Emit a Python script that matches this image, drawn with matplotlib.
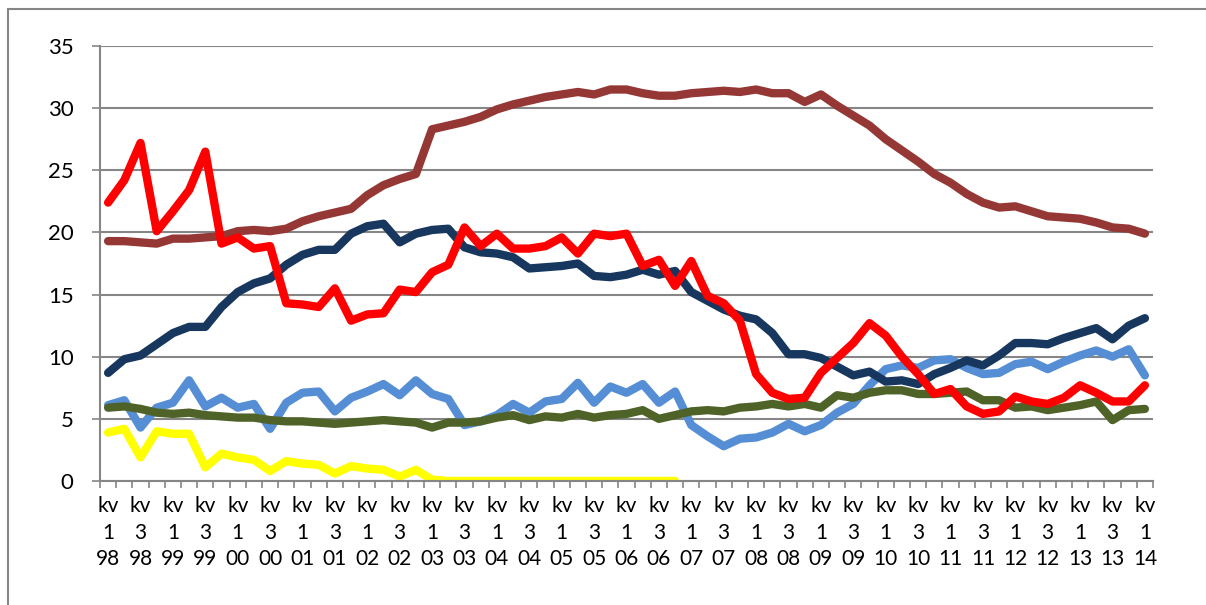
import numpy as np
import matplotlib
matplotlib.use('Agg')
import matplotlib.pyplot as plt
from matplotlib.patches import Rectangle

plt.rcParams['font.family'] = ['Lato', 'DejaVu Sans']

# kvartal 1 1998 .. kvartal 1 2014
years = ['98', '99', '00', '01', '02', '03', '04', '05', '06', '07',
         '08', '09', '10', '11', '12', '13', '14']
tick_labels = []
for y in years:
    for q in ['1', '3']:
        tick_labels.append('kv\n' + q + '\n' + y)
tick_labels = tick_labels[:33]

brown = [19.3, 19.3, 19.2, 19.1, 19.5, 19.5, 19.6, 19.7, 20.1, 20.2,
         20.1, 20.3, 20.9, 21.3, 21.6, 21.9, 23.0, 23.8, 24.3, 24.7,
         28.3, 28.6, 28.9, 29.3, 29.9, 30.3, 30.6, 30.9, 31.1, 31.3,
         31.1, 31.5, 31.5, 31.2, 31.0, 31.0, 31.2, 31.3, 31.4, 31.3,
         31.5, 31.2, 31.2, 30.5, 31.1, 30.2, 29.4, 28.6, 27.5, 26.6,
         25.7, 24.7, 24.0, 23.1, 22.4, 22.0, 22.1, 21.7, 21.3, 21.2,
         21.1, 20.8, 20.4, 20.3, 19.9]

navy = [8.7, 9.8, 10.1, 11.0, 11.9, 12.4, 12.4, 14.0, 15.2, 15.9,
        16.3, 17.4, 18.2, 18.6, 18.6, 19.9, 20.5, 20.7, 19.2, 19.9,
        20.2, 20.3, 18.8, 18.4, 18.3, 18.0, 17.1, 17.2, 17.3, 17.5,
        16.5, 16.4, 16.6, 17.0, 16.6, 16.9, 15.2, 14.5, 13.8, 13.3,
        13.0, 11.9, 10.2, 10.2, 9.9, 9.2, 8.5, 8.8, 8.0, 8.1,
        7.8, 8.6, 9.1, 9.7, 9.3, 10.1, 11.1, 11.1, 11.0, 11.5,
        11.9, 12.3, 11.4, 12.5, 13.1]

red = [22.4, 24.2, 27.2, 20.1, 21.7, 23.4, 26.5, 19.1, 19.6, 18.7,
       18.9, 14.3, 14.2, 14.0, 15.5, 12.9, 13.4, 13.5, 15.4, 15.2,
       16.8, 17.4, 20.4, 18.9, 19.9, 18.7, 18.7, 18.9, 19.6, 18.3,
       19.9, 19.7, 19.9, 17.3, 17.8, 15.7, 17.7, 14.9, 14.3, 12.9,
       8.6, 7.1, 6.6, 6.7, 8.7, 9.9, 11.1, 12.7, 11.7, 10.0,
       8.6, 7.0, 7.4, 6.0, 5.4, 5.6, 6.8, 6.4, 6.2, 6.7,
       7.7, 7.1, 6.4, 6.4, 7.7]

light_blue = [6.1, 6.5, 4.3, 5.9, 6.3, 8.1, 6.0, 6.7, 5.9, 6.2,
              4.2, 6.3, 7.1, 7.2, 5.6, 6.7, 7.2, 7.8, 6.9, 8.1,
              7.0, 6.6, 4.5, 4.8, 5.3, 6.2, 5.5, 6.4, 6.6, 7.9,
              6.3, 7.6, 7.1, 7.8, 6.3, 7.2, 4.5, 3.6, 2.8, 3.4,
              3.5, 3.9, 4.6, 4.0, 4.5, 5.5, 6.2, 7.7, 9.0, 9.3,
              9.1, 9.7, 9.8, 9.1, 8.6, 8.7, 9.4, 9.6, 9.0, 9.6,
              10.1, 10.5, 10.0, 10.6, 8.5]

olive = [5.9, 6.0, 5.8, 5.5, 5.4, 5.5, 5.3, 5.2, 5.1, 5.1,
         4.9, 4.8, 4.8, 4.7, 4.6, 4.7, 4.8, 4.9, 4.8, 4.7,
         4.3, 4.7, 4.7, 4.8, 5.1, 5.3, 4.9, 5.2, 5.1, 5.4,
         5.1, 5.3, 5.4, 5.7, 5.0, 5.3, 5.6, 5.7, 5.6, 5.9,
         6.0, 6.2, 6.0, 6.2, 5.9, 6.9, 6.7, 7.1, 7.3, 7.3,
         7.0, 7.0, 7.1, 7.2, 6.5, 6.5, 5.9, 6.0, 5.7, 5.9,
         6.1, 6.4, 4.9, 5.7, 5.8]

# gul serie slutar kv 4 2006
yellow = [3.9, 4.2, 1.9, 4.0, 3.8, 3.8, 1.1, 2.2, 1.9, 1.7,
          0.8, 1.6, 1.4, 1.3, 0.6, 1.2, 1.0, 0.9, 0.35, 0.9,
          0.1, 0.0, 0.0, 0.0, 0.0, 0.0, 0.0, 0.0, 0.0, 0.0,
          0.0, 0.0, 0.0, 0.0, 0.0, 0.0]

n = len(brown)
x = np.arange(n)

fig = plt.figure(figsize=(12.06, 6.05), dpi=100)
ax = fig.add_axes([100 / 1206, 1 - 481 / 605, 1053 / 1206, 435 / 605])

lw = 6
style = dict(lw=lw, solid_capstyle='round', solid_joinstyle='round')
ax.plot(x, brown, color='#953735', **style)
ax.plot(x, light_blue, color='#558ED5', **style)
ax.plot(x, navy, color='#17375E', **style)
ax.plot(x, olive, color='#4F6228', **style)
ax.plot(x[:len(yellow)], yellow, color='#FFFF00', **style)
ax.plot(x, red, color='#FF0000', **style)

ax.set_xlim(-0.5, n - 0.5)
ax.set_ylim(0, 35)
ax.set_yticks(np.arange(0, 36, 5))
ax.yaxis.grid(True, color='#868686', lw=1.5)
ax.set_axisbelow(True)

ax.set_xticks(x[::2])
ax.set_xticklabels(tick_labels, fontsize=15, linespacing=1.4)
ax.set_xticks(np.arange(-0.5, n, 1), minor=True)
ax.tick_params(axis='x', which='major', length=0, pad=11)
ax.tick_params(axis='x', which='minor', length=5, width=1.2, color='#868686')
ax.tick_params(axis='y', length=6, width=1.2, color='#868686', labelsize=16, pad=13)

for s in ['top', 'right']:
    ax.spines[s].set_visible(False)
for s in ['left', 'bottom']:
    ax.spines[s].set_color('#868686')
    ax.spines[s].set_linewidth(1.5)

# ram runt diagrammet
fig.patches.append(Rectangle((7.5 / 1206, -0.1), 1.2, 1 - 9.5 / 605 + 0.1,
                             transform=fig.transFigure, fill=False,
                             edgecolor='#868686', lw=1.5))

fig.savefig('out.png', dpi=100)
